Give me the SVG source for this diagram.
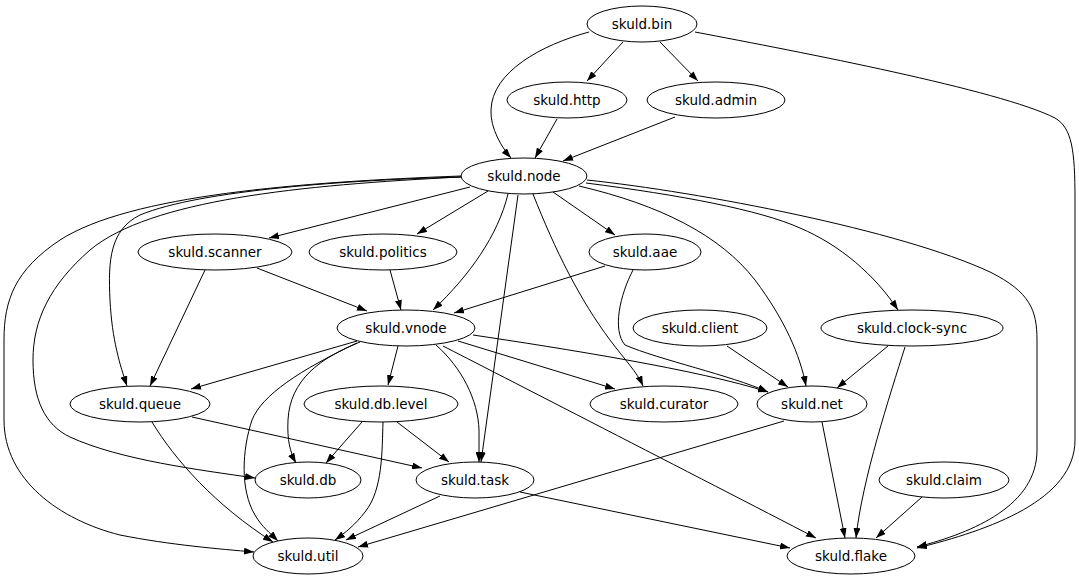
<svg xmlns="http://www.w3.org/2000/svg" width="1079" height="580" viewBox="0 0 1079 580">
<defs>
<marker id="arr" viewBox="0 0 10 7" refX="10" refY="3.5" markerWidth="10" markerHeight="7" markerUnits="userSpaceOnUse" orient="auto">
<path d="M0,0 L10,3.5 L0,7 z" fill="#000"/>
</marker>
<style>
.n ellipse{fill:#fff;stroke:#000;stroke-width:1}
.n text{font-family:"DejaVu Sans","Noto Sans",sans-serif;font-size:13.5px;text-anchor:middle;fill:#000}
#edges path{fill:none;stroke:#000;stroke-width:1;marker-end:url(#arr)}
</style>
</defs>
<rect width="1079" height="580" fill="#fff"/>
<g id="edges">
<path d="M623,42 L587,81"/>
<path d="M660,42 L698,81"/>
<path d="M589,32 C541,45 492,72 491,110 C490,128 502,148 511,158"/>
<path d="M695,32 C800,52 1000,90 1055,118 C1072,128 1075,150 1075,200 L1075,440 C1075,500 990,530 917,548"/>
<path d="M557,119 L535,158"/>
<path d="M675,117 L563,161"/>
<path d="M587,180 C700,192 900,230 990,272 C1030,292 1037,310 1037,340 L1037,450 C1037,505 975,532 917,547"/>
<path d="M586,183 C680,195 760,210 800,228 C840,245 875,275 898,310"/>
<path d="M579,186 C660,205 720,235 755,280 C785,320 800,355 806,386"/>
<path d="M533,194 C555,250 580,300 610,340 C625,360 637,372 643,386"/>
<path d="M518,195 L481,462"/>
<path d="M508,194 C498,235 470,275 433,310"/>
<path d="M470,187 L269,238"/>
<path d="M488,191 L417,234"/>
<path d="M553,192 L615,235"/>
<path d="M461,177 C350,180 200,190 140,215 C110,230 108,260 110,300 C112,340 120,365 127,386"/>
<path d="M461,177 C300,185 150,200 90,250 C50,285 33,320 33,360 C33,400 45,425 70,437 C120,460 200,470 255,478"/>
<path d="M461,176 C300,182 130,195 60,240 C15,270 4,300 4,340 L4,420 C4,480 60,520 120,535 C170,545 220,549 254,552"/>
<path d="M205,270 L150,386"/>
<path d="M257,268 L367,311"/>
<path d="M390,270 L401,310"/>
<path d="M605,266 L454,313"/>
<path d="M633,270 C620,295 612,330 625,345 C660,360 730,375 768,392"/>
<path d="M727,346 L788,387"/>
<path d="M888,346 L837,388"/>
<path d="M905,347 C890,395 862,480 856,538"/>
<path d="M822,422 L845,538"/>
<path d="M784,421 L358,547"/>
<path d="M440,496 L346,540"/>
<path d="M520,492 L790,548"/>
<path d="M922,497 L876,538"/>
<path d="M357,341 L191,389"/>
<path d="M398,346 L388,385"/>
<path d="M458,341 L615,389"/>
<path d="M473,335 C560,348 700,370 768,392"/>
<path d="M443,346 C490,370 700,478 816,538"/>
<path d="M436,345 C462,368 478,400 479,430 L479,462"/>
<path d="M360,342 C320,358 290,380 288,420 C287,440 290,452 296,463"/>
<path d="M357,343 C300,370 262,395 252,420 C242,450 240,490 255,515 C262,527 270,533 278,541"/>
<path d="M152,422 C175,460 215,505 273,542"/>
<path d="M192,417 L422,468"/>
<path d="M362,422 L326,463"/>
<path d="M397,422 L449,462"/>
<path d="M383,422 C382,450 383,490 365,512 C355,525 345,533 335,540"/>
</g>
<g id="bin" class="n"><ellipse cx="642" cy="24" rx="55" ry="18"/><text x="642" y="29">skuld.bin</text></g>
<g id="http" class="n"><ellipse cx="567" cy="100" rx="60" ry="18"/><text x="567" y="105">skuld.http</text></g>
<g id="admin" class="n"><ellipse cx="716" cy="100" rx="69" ry="18"/><text x="716" y="105">skuld.admin</text></g>
<g id="node" class="n"><ellipse cx="524" cy="176" rx="63" ry="18"/><text x="524" y="181">skuld.node</text></g>
<g id="scanner" class="n"><ellipse cx="215" cy="252" rx="77" ry="18"/><text x="215" y="257">skuld.scanner</text></g>
<g id="politics" class="n"><ellipse cx="383" cy="252" rx="74" ry="18"/><text x="383" y="257">skuld.politics</text></g>
<g id="aae" class="n"><ellipse cx="645" cy="252" rx="56" ry="18"/><text x="645" y="257">skuld.aae</text></g>
<g id="vnode" class="n"><ellipse cx="406" cy="328" rx="69" ry="18"/><text x="406" y="333">skuld.vnode</text></g>
<g id="client" class="n"><ellipse cx="700" cy="328" rx="67" ry="18"/><text x="700" y="333">skuld.client</text></g>
<g id="clock-sync" class="n"><ellipse cx="912" cy="328" rx="91" ry="18"/><text x="912" y="333">skuld.clock-sync</text></g>
<g id="queue" class="n"><ellipse cx="140" cy="404" rx="70" ry="18"/><text x="140" y="409">skuld.queue</text></g>
<g id="db.level" class="n"><ellipse cx="381" cy="404" rx="77" ry="18"/><text x="381" y="409">skuld.db.level</text></g>
<g id="curator" class="n"><ellipse cx="664" cy="404" rx="74" ry="18"/><text x="664" y="409">skuld.curator</text></g>
<g id="net" class="n"><ellipse cx="812" cy="404" rx="55" ry="18"/><text x="812" y="409">skuld.net</text></g>
<g id="db" class="n"><ellipse cx="308" cy="480" rx="53" ry="18"/><text x="308" y="485">skuld.db</text></g>
<g id="task" class="n"><ellipse cx="475" cy="480" rx="59" ry="18"/><text x="475" y="485">skuld.task</text></g>
<g id="claim" class="n"><ellipse cx="944" cy="480" rx="65" ry="18"/><text x="944" y="485">skuld.claim</text></g>
<g id="util" class="n"><ellipse cx="308" cy="556" rx="55" ry="18"/><text x="308" y="561">skuld.util</text></g>
<g id="flake" class="n"><ellipse cx="851" cy="556" rx="64" ry="18"/><text x="851" y="561">skuld.flake</text></g>
</svg>
